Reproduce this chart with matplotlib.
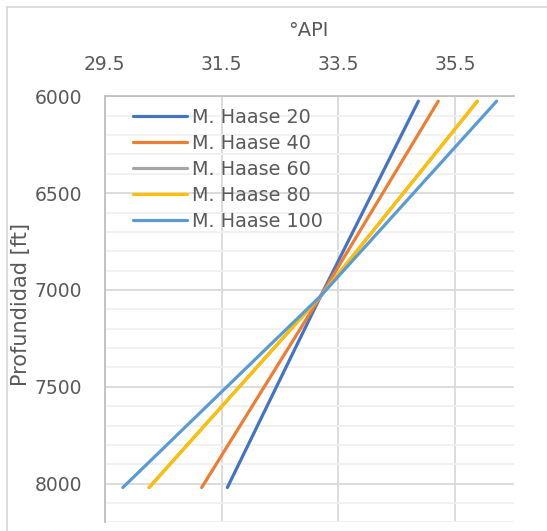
import matplotlib
matplotlib.use("Agg")
import matplotlib.pyplot as plt
from matplotlib.ticker import MultipleLocator

plt.rcParams['font.family'] = ['DejaVu Sans']

depth = [6025, 7030, 8020]
series_names = ["M. Haase 20", "M. Haase 40", "M. Haase 60", "M. Haase 80", "M. Haase 100"]
api_haase20 = [34.87, 33.20, 31.60]
api_haase40 = [35.21, 33.20, 31.16]
api_haase60 = [35.88, 33.20, 30.26]
api_haase80 = [35.88, 33.20, 30.26]
api_haase100 = [36.21, 33.20, 29.81]
colors = ["#4472C4", "#ED7D31", "#A5A5A5", "#FFC000", "#5B9BD5"]
x_ticks = [29.5, 31.5, 33.5, 35.5]
y_ticks = [6000, 6500, 7000, 7500, 8000]

W, H = 547, 531
fig = plt.figure(figsize=(W / 100, H / 100), dpi=100)
ax = fig.add_axes([104.7 / W, 1 - 522.4 / H, (513.6 - 104.7) / W, (522.4 - 96.3) / H])

all_series = [api_haase20, api_haase40, api_haase60, api_haase80, api_haase100]
for name, vals, c in zip(series_names, all_series, colors):
    ax.plot(vals, depth, color=c, lw=2.3, solid_capstyle='round', solid_joinstyle='round', label=name)

ax.set_xlim(29.5, 36.5)
ax.set_ylim(8200, 6000)
ax.set_xticks(x_ticks)
ax.set_xticklabels([f"{v:.1f}" for v in x_ticks])
ax.set_yticks(y_ticks)
ax.yaxis.set_minor_locator(MultipleLocator(100))
ax.xaxis.tick_top()
ax.tick_params(axis='both', which='both', length=0, labelsize=13.5, colors='#595959')
ax.tick_params(axis='x', pad=16)
ax.tick_params(axis='y', pad=16)
ax.grid(True, which='major', color='#d9d9d9', lw=1.3)
ax.grid(True, which='minor', axis='y', color='#f0f0f0', lw=1.3)
ax.set_axisbelow(True)
for s in ['right', 'bottom']:
    ax.spines[s].set_visible(False)
for s in ['left', 'top']:
    ax.spines[s].set_color('#bfbfbf')
    ax.spines[s].set_linewidth(1.3)

fig.text(308 / W, 1 - 30 / H, "°API", ha='center', va='center', fontsize=14, color='#595959')
fig.text(21 / W, 1 - 305 / H, "Profundidad [ft]", ha='center', va='center', rotation=90,
         fontsize=15, color='#595959')

leg = ax.legend(loc='upper left', bbox_to_anchor=(133 / W, 1 - 108 / H), bbox_transform=fig.transFigure,
                frameon=False, fontsize=13.8, handlelength=2.8, handletextpad=0.3, labelspacing=0.36,
                borderpad=0, borderaxespad=0)
for t in leg.get_texts():
    t.set_color('#595959')
for l in leg.get_lines():
    l.set_linewidth(2.3)

# outer chart border
fig.add_artist(plt.Line2D([7 / W, 1.0], [1 - 7 / H, 1 - 7 / H], transform=fig.transFigure, color='#d9d9d9', lw=1.3))
fig.add_artist(plt.Line2D([7 / W, 7 / W], [0, 1 - 7 / H], transform=fig.transFigure, color='#d9d9d9', lw=1.3))

fig.savefig("out.png", dpi=100)
